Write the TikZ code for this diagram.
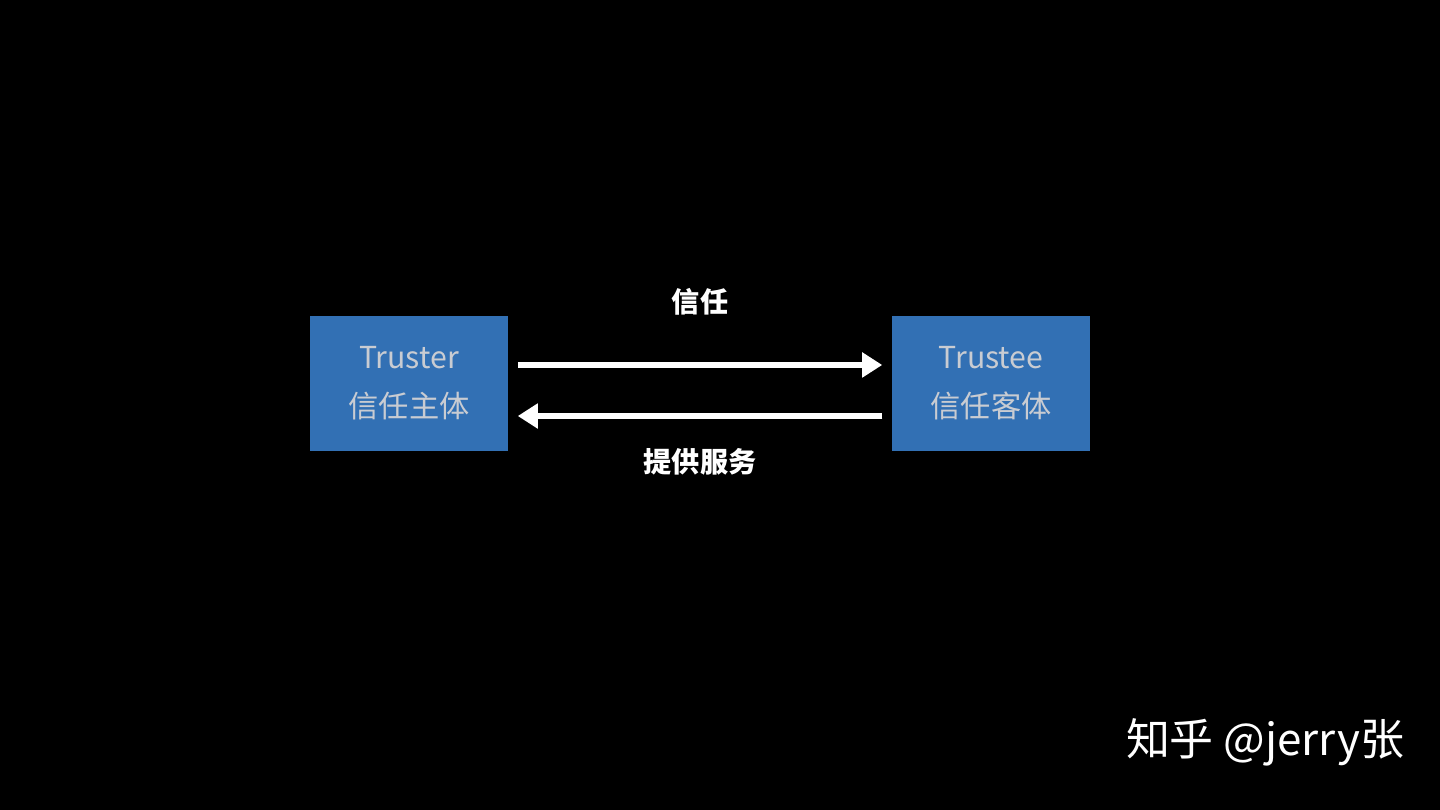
\documentclass[tikz,border=0pt]{standalone}
\usepackage{fontspec}
\setmainfont{Liberation Sans}
\newfontfamily\cjk{Noto Sans CJK SC}
\usetikzlibrary{arrows.meta}
\definecolor{boxblue}{HTML}{3270B4}
\definecolor{boxtext}{HTML}{C9CCD2}
\begin{document}
\begin{tikzpicture}[x=0.01cm,y=-0.01cm,
	party/.style={fill=boxblue,minimum width=1.98cm,minimum height=1.35cm,inner sep=0pt,
		align=center,text=boxtext,font=\fontsize{8.6pt}{14pt}\selectfont\cjk},
	label/.style={text=white,font=\fontsize{8pt}{10pt}\selectfont\cjk\bfseries},
	flow/.style={white,line width=1.7pt,-{Triangle[length=0.2cm,width=0.24cm]}}]
	
	\fill[black] (0,0) rectangle (1440,810);
	
	\node[party] (truster) at (409,383.5) {Truster\\信任主体};
	\node[party] (trustee) at (991,383.5) {Trustee\\信任客体};
	
	\node[label] (trust) at (700,302) {信任};
	\node[label] (serve) at (700,462) {提供服务};
	
	\draw[flow,shorten <=0.09cm,shorten >=0.09cm] ([yshift=0.185cm]truster.east) -- ([yshift=0.185cm]trustee.west);
	\draw[flow,shorten <=0.09cm,shorten >=0.09cm] ([yshift=-0.325cm]trustee.west) -- ([yshift=-0.325cm]truster.east);
	
	\node[text=white,font=\fontsize{12.5pt}{15pt}\selectfont\cjk] (mark) at (1265,742) {知乎 @jerry张};
\end{tikzpicture}
\end{document}
